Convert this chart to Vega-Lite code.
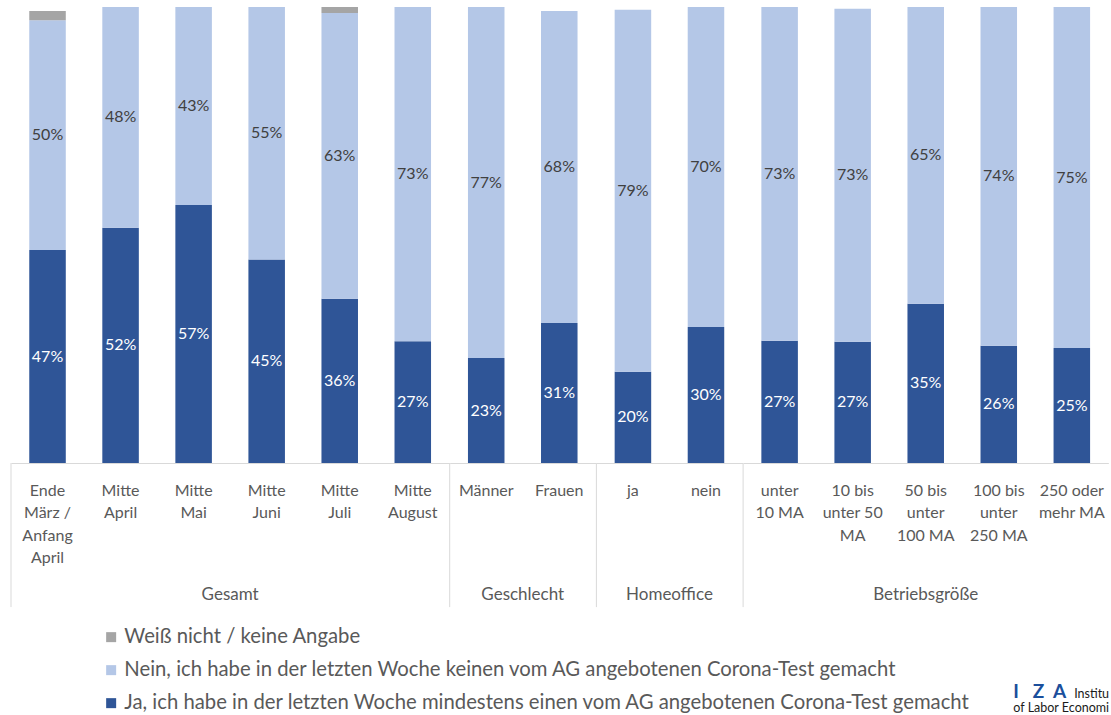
{
  "$schema": "https://vega.github.io/schema/vega-lite/v6.json",
  "padding": {"left": 10, "top": 7, "right": 0, "bottom": 0},
  "background": "white",
  "config": {"view": {"stroke": null}, "font": "Lato"},
  "title": {
    "text": "I\u00a0\u00a0\u00a0Z\u00a0\u00a0A",
    "subtitle": ["\u200b\u00a0\u00a0\u00a0\u00a0\u00a0\u00a0\u00a0\u00a0\u00a0\u00a0\u00a0\u00a0\u00a0\u00a0\u00a0\u00a0\u00a0\u00a0\u00a0Institu", "of Labor Economi"],
    "orient": "bottom", "anchor": "end", "align": "left", "dx": -95, "offset": -31,
    "font": "Lato", "fontSize": 19, "fontWeight": "bold", "color": "#1B4F9C",
    "subtitleFont": "Lato", "subtitleFontSize": 12.5, "subtitleColor": "#1A1A1A", "subtitlePadding": -14, "subtitleLineHeight": 14
  },
  "data": {"values": [
    {"gruppe": "Gesamt", "kategorie": "Ende\nMärz /\nAnfang\nApril", "antwort": "Ja, ich habe in der letzten Woche mindestens einen vom AG angebotenen Corona-Test gemacht", "wert": 0.467},
    {"gruppe": "Gesamt", "kategorie": "Ende\nMärz /\nAnfang\nApril", "antwort": "Nein, ich habe in der letzten Woche keinen vom AG angebotenen Corona-Test gemacht", "wert": 0.504},
    {"gruppe": "Gesamt", "kategorie": "Ende\nMärz /\nAnfang\nApril", "antwort": "Weiß nicht / keine Angabe", "wert": 0.020},
    {"gruppe": "Gesamt", "kategorie": "Mitte\nApril", "antwort": "Ja, ich habe in der letzten Woche mindestens einen vom AG angebotenen Corona-Test gemacht", "wert": 0.516},
    {"gruppe": "Gesamt", "kategorie": "Mitte\nApril", "antwort": "Nein, ich habe in der letzten Woche keinen vom AG angebotenen Corona-Test gemacht", "wert": 0.484},
    {"gruppe": "Gesamt", "kategorie": "Mitte\nMai", "antwort": "Ja, ich habe in der letzten Woche mindestens einen vom AG angebotenen Corona-Test gemacht", "wert": 0.566},
    {"gruppe": "Gesamt", "kategorie": "Mitte\nMai", "antwort": "Nein, ich habe in der letzten Woche keinen vom AG angebotenen Corona-Test gemacht", "wert": 0.434},
    {"gruppe": "Gesamt", "kategorie": "Mitte\nJuni", "antwort": "Ja, ich habe in der letzten Woche mindestens einen vom AG angebotenen Corona-Test gemacht", "wert": 0.446},
    {"gruppe": "Gesamt", "kategorie": "Mitte\nJuni", "antwort": "Nein, ich habe in der letzten Woche keinen vom AG angebotenen Corona-Test gemacht", "wert": 0.554},
    {"gruppe": "Gesamt", "kategorie": "Mitte\nJuli", "antwort": "Ja, ich habe in der letzten Woche mindestens einen vom AG angebotenen Corona-Test gemacht", "wert": 0.360},
    {"gruppe": "Gesamt", "kategorie": "Mitte\nJuli", "antwort": "Nein, ich habe in der letzten Woche keinen vom AG angebotenen Corona-Test gemacht", "wert": 0.627},
    {"gruppe": "Gesamt", "kategorie": "Mitte\nJuli", "antwort": "Weiß nicht / keine Angabe", "wert": 0.013},
    {"gruppe": "Gesamt", "kategorie": "Mitte\nAugust", "antwort": "Ja, ich habe in der letzten Woche mindestens einen vom AG angebotenen Corona-Test gemacht", "wert": 0.267},
    {"gruppe": "Gesamt", "kategorie": "Mitte\nAugust", "antwort": "Nein, ich habe in der letzten Woche keinen vom AG angebotenen Corona-Test gemacht", "wert": 0.733},
    {"gruppe": "Geschlecht", "kategorie": "Männer", "antwort": "Ja, ich habe in der letzten Woche mindestens einen vom AG angebotenen Corona-Test gemacht", "wert": 0.230},
    {"gruppe": "Geschlecht", "kategorie": "Männer", "antwort": "Nein, ich habe in der letzten Woche keinen vom AG angebotenen Corona-Test gemacht", "wert": 0.770},
    {"gruppe": "Geschlecht", "kategorie": "Frauen", "antwort": "Ja, ich habe in der letzten Woche mindestens einen vom AG angebotenen Corona-Test gemacht", "wert": 0.307},
    {"gruppe": "Geschlecht", "kategorie": "Frauen", "antwort": "Nein, ich habe in der letzten Woche keinen vom AG angebotenen Corona-Test gemacht", "wert": 0.684},
    {"gruppe": "Homeoffice", "kategorie": "ja", "antwort": "Ja, ich habe in der letzten Woche mindestens einen vom AG angebotenen Corona-Test gemacht", "wert": 0.200},
    {"gruppe": "Homeoffice", "kategorie": "ja", "antwort": "Nein, ich habe in der letzten Woche keinen vom AG angebotenen Corona-Test gemacht", "wert": 0.794},
    {"gruppe": "Homeoffice", "kategorie": "nein", "antwort": "Ja, ich habe in der letzten Woche mindestens einen vom AG angebotenen Corona-Test gemacht", "wert": 0.298},
    {"gruppe": "Homeoffice", "kategorie": "nein", "antwort": "Nein, ich habe in der letzten Woche keinen vom AG angebotenen Corona-Test gemacht", "wert": 0.702},
    {"gruppe": "Betriebsgröße", "kategorie": "unter\n10 MA", "antwort": "Ja, ich habe in der letzten Woche mindestens einen vom AG angebotenen Corona-Test gemacht", "wert": 0.268},
    {"gruppe": "Betriebsgröße", "kategorie": "unter\n10 MA", "antwort": "Nein, ich habe in der letzten Woche keinen vom AG angebotenen Corona-Test gemacht", "wert": 0.732},
    {"gruppe": "Betriebsgröße", "kategorie": "10 bis\nunter 50\nMA", "antwort": "Ja, ich habe in der letzten Woche mindestens einen vom AG angebotenen Corona-Test gemacht", "wert": 0.266},
    {"gruppe": "Betriebsgröße", "kategorie": "10 bis\nunter 50\nMA", "antwort": "Nein, ich habe in der letzten Woche keinen vom AG angebotenen Corona-Test gemacht", "wert": 0.730},
    {"gruppe": "Betriebsgröße", "kategorie": "50 bis\nunter\n100 MA", "antwort": "Ja, ich habe in der letzten Woche mindestens einen vom AG angebotenen Corona-Test gemacht", "wert": 0.349},
    {"gruppe": "Betriebsgröße", "kategorie": "50 bis\nunter\n100 MA", "antwort": "Nein, ich habe in der letzten Woche keinen vom AG angebotenen Corona-Test gemacht", "wert": 0.651},
    {"gruppe": "Betriebsgröße", "kategorie": "100 bis\nunter\n250 MA", "antwort": "Ja, ich habe in der letzten Woche mindestens einen vom AG angebotenen Corona-Test gemacht", "wert": 0.257},
    {"gruppe": "Betriebsgröße", "kategorie": "100 bis\nunter\n250 MA", "antwort": "Nein, ich habe in der letzten Woche keinen vom AG angebotenen Corona-Test gemacht", "wert": 0.743},
    {"gruppe": "Betriebsgröße", "kategorie": "250 oder\nmehr MA", "antwort": "Ja, ich habe in der letzten Woche mindestens einen vom AG angebotenen Corona-Test gemacht", "wert": 0.252},
    {"gruppe": "Betriebsgröße", "kategorie": "250 oder\nmehr MA", "antwort": "Nein, ich habe in der letzten Woche keinen vom AG angebotenen Corona-Test gemacht", "wert": 0.748}
  ]},
  "transform": [
    {"stack": "wert", "groupby": ["gruppe", "kategorie"], "sort": [{"field": "antwort", "order": "ascending"}], "as": ["y0", "y1"], "offset": "zero"},
    {"calculate": "(datum.y0 + datum.y1) / 2", "as": "ymid"}
  ],
  "facet": {
    "column": {
      "field": "gruppe",
      "type": "nominal",
      "sort": ["Gesamt", "Geschlecht", "Homeoffice", "Betriebsgröße"],
      "title": null,
      "header": {"labelOrient": "bottom", "labelFont": "Lato", "labelFontSize": 17, "labelColor": "#595959", "labelPadding": -21}
    }
  },
  "spacing": -1.3,
  "resolve": {"scale": {"x": "independent"}},
  "spec": {
    "width": {"step": 73.05},
    "height": 456,
    "encoding": {
      "x": {
        "field": "kategorie", "type": "nominal", "sort": null,
        "scale": {"paddingInner": 0.5, "paddingOuter": 0.25},
        "axis": {"title": null, "labelAngle": 0, "ticks": false, "domainColor": "#D9D9D9", "labelFont": "Lato", "labelFontSize": 16, "labelColor": "#595959", "labelLineHeight": 22.5, "labelPadding": 19, "labelBaseline": "top", "labelExpr": "split(datum.label, '\\n')"}
      }
    },
    "layer": [
      {
        "mark": {"type": "bar"},
        "encoding": {
          "y": {"field": "y1", "type": "quantitative", "scale": {"domain": [0, 1]}, "axis": null},
          "y2": {"field": "y0"},
          "color": {
            "field": "antwort", "type": "nominal", "title": null,
            "scale": {
              "domain": ["Weiß nicht / keine Angabe", "Nein, ich habe in der letzten Woche keinen vom AG angebotenen Corona-Test gemacht", "Ja, ich habe in der letzten Woche mindestens einen vom AG angebotenen Corona-Test gemacht"],
              "range": ["#A5A5A5", "#B4C7E7", "#2F5597"]
            },
            "legend": {"orient": "none", "legendX": 90, "legendY": 620, "direction": "vertical", "symbolType": "square", "symbolSize": 100, "symbolStrokeWidth": 0, "labelFont": "Lato", "labelFontSize": 20.3, "labelColor": "#595959", "rowPadding": 12, "labelLimit": 1100, "labelOffset": 3}
          }
        }
      },
      {
        "transform": [{"filter": "datum.antwort === 'Ja, ich habe in der letzten Woche mindestens einen vom AG angebotenen Corona-Test gemacht'"}],
        "mark": {"type": "text", "color": "white", "fontSize": 16, "font": "Lato", "baseline": "middle"},
        "encoding": {
          "y": {"field": "ymid", "type": "quantitative"},
          "text": {"field": "wert", "type": "quantitative", "format": ".0%"}
        }
      },
      {
        "transform": [{"filter": "datum.antwort === 'Nein, ich habe in der letzten Woche keinen vom AG angebotenen Corona-Test gemacht'"}],
        "mark": {"type": "text", "color": "#404040", "fontSize": 16, "font": "Lato", "baseline": "middle"},
        "encoding": {
          "y": {"field": "ymid", "type": "quantitative"},
          "text": {"field": "wert", "type": "quantitative", "format": ".0%"}
        }
      },
      {
        "transform": [
          {"filter": "datum.antwort === 'Ja, ich habe in der letzten Woche mindestens einen vom AG angebotenen Corona-Test gemacht'"},
          {"window": [{"op": "row_number", "as": "rn"}], "groupby": ["gruppe"]},
          {"filter": "datum.rn === 1"}
        ],
        "mark": {"type": "rule", "color": "#D9D9D9", "strokeWidth": 1},
        "encoding": {
          "x": {"field": "kategorie", "type": "nominal", "sort": null, "bandPosition": -0.5},
          "y": {"datum": 0},
          "y2": {"datum": -0.316}
        }
      }
    ]
  }
}
